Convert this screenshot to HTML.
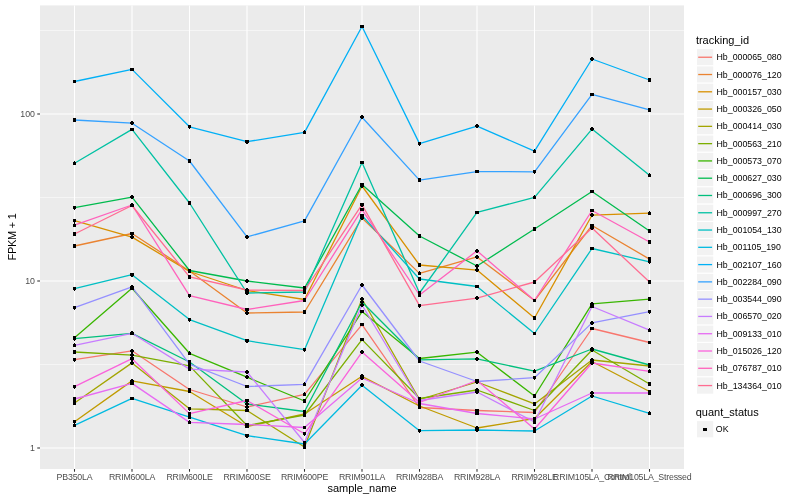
<!DOCTYPE html><html><head><meta charset="utf-8"><title>plot</title><style>html,body{margin:0;padding:0;background:#fff;}svg{display:block;will-change:transform;}text{font-family:"Liberation Sans",Arial,Helvetica,sans-serif;}</style></head><body>
<svg width="800" height="500" viewBox="0 0 800 500">
<rect x="0" y="0" width="800" height="500" fill="#ffffff"/>
<rect x="40" y="5.4" width="644" height="463.6" fill="#EBEBEB"/>
<line x1="40" x2="684" y1="30.5" y2="30.5" stroke="#fff" stroke-width="0.53"/>
<line x1="40" x2="684" y1="197.5" y2="197.5" stroke="#fff" stroke-width="0.53"/>
<line x1="40" x2="684" y1="364.5" y2="364.5" stroke="#fff" stroke-width="0.53"/>
<line x1="40" x2="684" y1="114" y2="114" stroke="#fff" stroke-width="1.07"/>
<line x1="40" x2="684" y1="281" y2="281" stroke="#fff" stroke-width="1.07"/>
<line x1="40" x2="684" y1="448" y2="448" stroke="#fff" stroke-width="1.07"/>
<line x1="74.5" x2="74.5" y1="5.4" y2="469" stroke="#fff" stroke-width="1.07"/>
<line x1="132" x2="132" y1="5.4" y2="469" stroke="#fff" stroke-width="1.07"/>
<line x1="189.5" x2="189.5" y1="5.4" y2="469" stroke="#fff" stroke-width="1.07"/>
<line x1="247" x2="247" y1="5.4" y2="469" stroke="#fff" stroke-width="1.07"/>
<line x1="304.5" x2="304.5" y1="5.4" y2="469" stroke="#fff" stroke-width="1.07"/>
<line x1="362" x2="362" y1="5.4" y2="469" stroke="#fff" stroke-width="1.07"/>
<line x1="419.5" x2="419.5" y1="5.4" y2="469" stroke="#fff" stroke-width="1.07"/>
<line x1="477" x2="477" y1="5.4" y2="469" stroke="#fff" stroke-width="1.07"/>
<line x1="534.5" x2="534.5" y1="5.4" y2="469" stroke="#fff" stroke-width="1.07"/>
<line x1="592" x2="592" y1="5.4" y2="469" stroke="#fff" stroke-width="1.07"/>
<line x1="649.5" x2="649.5" y1="5.4" y2="469" stroke="#fff" stroke-width="1.07"/>
<polyline points="74.5,359.7 132,350.8 189.5,389.5 247,407 304.5,394.3 362,324.6 419.5,407.5 477,410.5 534.5,412.5 592,328.5 649.5,342.5" fill="none" stroke="#F8766D" stroke-width="1.3" stroke-linejoin="round"/>
<polyline points="74.5,246 132,233.5 189.5,271 247,313 304.5,312 362,218 419.5,273.4 477,256.9 534.5,300.5 592,225.5 649.5,259.1" fill="none" stroke="#EA8331" stroke-width="1.3" stroke-linejoin="round"/>
<polyline points="74.5,220.6 132,237.1 189.5,271.5 247,290.5 304.5,299.5 362,186 419.5,265 477,270.1 534.5,318 592,215.2 649.5,213.2" fill="none" stroke="#D89000" stroke-width="1.3" stroke-linejoin="round"/>
<polyline points="74.5,421.8 132,380.9 189.5,391.5 247,426.5 304.5,414 362,376.3 419.5,406 477,428 534.5,418.5 592,361.5 649.5,391.5" fill="none" stroke="#C09B00" stroke-width="1.3" stroke-linejoin="round"/>
<polyline points="74.5,403 132,362.9 189.5,408.8 247,410.5 304.5,447 362,299 419.5,399.5 477,382 534.5,403.9 592,360 649.5,366" fill="none" stroke="#A3A500" stroke-width="1.3" stroke-linejoin="round"/>
<polyline points="74.5,352 132,355.2 189.5,365.9 247,425.5 304.5,415 362,339.6 419.5,398.5 477,390 534.5,410.5 592,350 649.5,384" fill="none" stroke="#7CAE00" stroke-width="1.3" stroke-linejoin="round"/>
<polyline points="74.5,337.7 132,288.3 189.5,353.3 247,377.2 304.5,401 362,311.6 419.5,358.5 477,352.2 534.5,396 592,303.8 649.5,299.1" fill="none" stroke="#39B600" stroke-width="1.3" stroke-linejoin="round"/>
<polyline points="74.5,207.6 132,197.1 189.5,270.5 247,281 304.5,288 362,184.5 419.5,236 477,266 534.5,229 592,191.5 649.5,231" fill="none" stroke="#00BB4E" stroke-width="1.3" stroke-linejoin="round"/>
<polyline points="74.5,338.7 132,333.3 189.5,362 247,404 304.5,411.5 362,302 419.5,359.8 477,358.8 534.5,371.2 592,349 649.5,365" fill="none" stroke="#00BF7D" stroke-width="1.3" stroke-linejoin="round"/>
<polyline points="74.5,163.2 132,129.4 189.5,203 247,293 304.5,292 362,162.5 419.5,293 477,212.4 534.5,197.4 592,129.1 649.5,175.2" fill="none" stroke="#00C1A3" stroke-width="1.3" stroke-linejoin="round"/>
<polyline points="74.5,288.6 132,274.7 189.5,319.6 247,340.7 304.5,349.7 362,215.5 419.5,279 477,286.5 534.5,333.5 592,248.5 649.5,261.8" fill="none" stroke="#00BFC4" stroke-width="1.3" stroke-linejoin="round"/>
<polyline points="74.5,425.3 132,398.4 189.5,417.1 247,435.7 304.5,444 362,385.2 419.5,430.7 477,430 534.5,431 592,396 649.5,413.4" fill="none" stroke="#00BAE0" stroke-width="1.3" stroke-linejoin="round"/>
<polyline points="74.5,81.5 132,69.4 189.5,126.8 247,141.7 304.5,132.4 362,26.5 419.5,143.6 477,126.1 534.5,151.2 592,59 649.5,80" fill="none" stroke="#00B0F6" stroke-width="1.3" stroke-linejoin="round"/>
<polyline points="74.5,120 132,123.2 189.5,161 247,236.9 304.5,220.9 362,117.2 419.5,180.1 477,171.6 534.5,171.8 592,94.4 649.5,109.9" fill="none" stroke="#35A2FF" stroke-width="1.3" stroke-linejoin="round"/>
<polyline points="74.5,307.6 132,286.8 189.5,364.2 247,386.5 304.5,384.4 362,285 419.5,361 477,381.5 534.5,377.7 592,322.9 649.5,311.7" fill="none" stroke="#9590FF" stroke-width="1.3" stroke-linejoin="round"/>
<polyline points="74.5,345.4 132,333.3 189.5,369.1 247,372 304.5,442.5 362,305 419.5,400.5 477,392 534.5,422 592,306.5 649.5,330.2" fill="none" stroke="#C77CFF" stroke-width="1.3" stroke-linejoin="round"/>
<polyline points="74.5,399 132,383.4 189.5,422.4 247,424.5 304.5,427.5 362,378 419.5,403.5 477,413.5 534.5,419 592,393 649.5,393" fill="none" stroke="#E76BF3" stroke-width="1.3" stroke-linejoin="round"/>
<polyline points="74.5,386.7 132,358.7 189.5,413.6 247,400.5 304.5,433.8 362,352.1 419.5,402.5 477,380.5 534.5,429 592,363 649.5,371.4" fill="none" stroke="#FA62DB" stroke-width="1.3" stroke-linejoin="round"/>
<polyline points="74.5,225.2 132,205 189.5,295.6 247,309.5 304.5,300.5 362,209.6 419.5,295 477,250.8 534.5,300.5 592,210.5 649.5,242" fill="none" stroke="#FF62BC" stroke-width="1.3" stroke-linejoin="round"/>
<polyline points="74.5,234 132,205.5 189.5,276.9 247,290 304.5,290.5 362,204.7 419.5,305.6 477,298.1 534.5,282 592,228 649.5,282" fill="none" stroke="#FF6C91" stroke-width="1.3" stroke-linejoin="round"/>
<path d="M73 80h3v1h-3zM73 81h3v1h-3zM73 82h3v1h-3zM130 68h4v1h-4zM130 69h4v1h-4zM130 70h4v1h-4zM188 125h3v1h-3zM188 126h3v1h-3zM188 127h3v1h-3zM189 128h1v1h-1zM245 140h4v1h-4zM245 141h4v1h-4zM245 142h4v1h-4zM246 143h2v1h-2zM304 130h1v1h-1zM303 131h3v1h-3zM303 132h3v1h-3zM303 133h3v1h-3zM360 25h4v1h-4zM360 26h4v1h-4zM360 27h4v1h-4zM418 142h3v1h-3zM418 143h3v1h-3zM418 144h3v1h-3zM419 145h1v1h-1zM476 124h2v1h-2zM475 125h4v1h-4zM475 126h4v1h-4zM476 127h2v1h-2zM534 149h1v1h-1zM533 150h3v1h-3zM533 151h3v1h-3zM533 152h3v1h-3zM591 57h2v1h-2zM590 58h4v1h-4zM590 59h4v1h-4zM591 60h2v1h-2zM648 78h3v1h-3zM648 79h3v1h-3zM648 80h3v1h-3zM648 81h3v1h-3zM73 118h3v1h-3zM73 119h3v1h-3zM73 120h3v1h-3zM73 121h3v1h-3zM131 121h2v1h-2zM130 122h4v1h-4zM130 123h4v1h-4zM131 124h2v1h-2zM188 159h3v1h-3zM188 160h3v1h-3zM188 161h3v1h-3zM188 162h3v1h-3zM246 235h2v1h-2zM245 236h4v1h-4zM245 237h4v1h-4zM246 238h2v1h-2zM303 219h3v1h-3zM303 220h3v1h-3zM303 221h3v1h-3zM303 222h3v1h-3zM361 115h2v1h-2zM360 116h4v1h-4zM360 117h4v1h-4zM361 118h2v1h-2zM418 178h3v1h-3zM418 179h3v1h-3zM418 180h3v1h-3zM418 181h3v1h-3zM475 170h4v1h-4zM475 171h4v1h-4zM475 172h4v1h-4zM533 170h3v1h-3zM533 171h3v1h-3zM533 172h3v1h-3zM534 173h1v1h-1zM590 93h4v1h-4zM590 94h4v1h-4zM590 95h4v1h-4zM648 108h3v1h-3zM648 109h3v1h-3zM648 110h3v1h-3zM648 111h3v1h-3zM74 161h1v1h-1zM73 162h3v1h-3zM73 163h3v1h-3zM73 164h3v1h-3zM130 128h4v1h-4zM130 129h4v1h-4zM130 130h4v1h-4zM188 201h3v1h-3zM188 202h3v1h-3zM188 203h3v1h-3zM188 204h3v1h-3zM246 291h2v1h-2zM245 292h4v1h-4zM245 293h4v1h-4zM246 294h2v1h-2zM303 290h3v1h-3zM303 291h3v1h-3zM303 292h3v1h-3zM303 293h3v1h-3zM360 161h4v1h-4zM360 162h4v1h-4zM360 163h4v1h-4zM418 291h3v1h-3zM418 292h3v1h-3zM418 293h3v1h-3zM418 294h3v1h-3zM475 211h4v1h-4zM475 212h4v1h-4zM475 213h4v1h-4zM534 195h1v1h-1zM533 196h3v1h-3zM533 197h3v1h-3zM533 198h3v1h-3zM591 127h2v1h-2zM590 128h4v1h-4zM590 129h4v1h-4zM591 130h2v1h-2zM649 173h1v1h-1zM648 174h3v1h-3zM648 175h3v1h-3zM648 176h3v1h-3zM73 206h3v1h-3zM73 207h3v1h-3zM73 208h3v1h-3zM74 209h1v1h-1zM131 195h2v1h-2zM130 196h4v1h-4zM130 197h4v1h-4zM131 198h2v1h-2zM188 269h3v1h-3zM188 270h3v1h-3zM188 271h3v1h-3zM246 279h2v1h-2zM245 280h4v1h-4zM245 281h4v1h-4zM246 282h2v1h-2zM303 286h3v1h-3zM303 287h3v1h-3zM303 288h3v1h-3zM303 289h3v1h-3zM360 183h4v1h-4zM360 184h4v1h-4zM360 185h4v1h-4zM418 234h3v1h-3zM418 235h3v1h-3zM418 236h3v1h-3zM418 237h3v1h-3zM476 264h2v1h-2zM475 265h4v1h-4zM475 266h4v1h-4zM476 267h2v1h-2zM533 227h3v1h-3zM533 228h3v1h-3zM533 229h3v1h-3zM533 230h3v1h-3zM590 190h4v1h-4zM590 191h4v1h-4zM590 192h4v1h-4zM648 229h3v1h-3zM648 230h3v1h-3zM648 231h3v1h-3zM648 232h3v1h-3zM73 219h3v1h-3zM73 220h3v1h-3zM73 221h3v1h-3zM74 222h1v1h-1zM131 235h2v1h-2zM130 236h4v1h-4zM130 237h4v1h-4zM131 238h2v1h-2zM188 270h3v1h-3zM188 271h3v1h-3zM188 272h3v1h-3zM245 289h4v1h-4zM245 290h4v1h-4zM245 291h4v1h-4zM303 298h3v1h-3zM303 299h3v1h-3zM303 300h3v1h-3zM361 184h2v1h-2zM360 185h4v1h-4zM360 186h4v1h-4zM361 187h2v1h-2zM418 263h3v1h-3zM418 264h3v1h-3zM418 265h3v1h-3zM418 266h3v1h-3zM476 268h2v1h-2zM475 269h4v1h-4zM475 270h4v1h-4zM476 271h2v1h-2zM533 316h3v1h-3zM533 317h3v1h-3zM533 318h3v1h-3zM533 319h3v1h-3zM591 213h2v1h-2zM590 214h4v1h-4zM590 215h4v1h-4zM591 216h2v1h-2zM649 211h1v1h-1zM648 212h3v1h-3zM648 213h3v1h-3zM648 214h3v1h-3zM74 223h1v1h-1zM73 224h3v1h-3zM73 225h3v1h-3zM73 226h3v1h-3zM131 203h2v1h-2zM130 204h4v1h-4zM130 205h4v1h-4zM131 206h2v1h-2zM188 294h3v1h-3zM188 295h3v1h-3zM188 296h3v1h-3zM189 297h1v1h-1zM245 308h4v1h-4zM245 309h4v1h-4zM245 310h4v1h-4zM303 299h3v1h-3zM303 300h3v1h-3zM303 301h3v1h-3zM360 208h4v1h-4zM360 209h4v1h-4zM360 210h4v1h-4zM418 293h3v1h-3zM418 294h3v1h-3zM418 295h3v1h-3zM418 296h3v1h-3zM476 249h2v1h-2zM475 250h4v1h-4zM475 251h4v1h-4zM476 252h2v1h-2zM533 299h3v1h-3zM533 300h3v1h-3zM533 301h3v1h-3zM590 209h4v1h-4zM590 210h4v1h-4zM590 211h4v1h-4zM648 240h3v1h-3zM648 241h3v1h-3zM648 242h3v1h-3zM648 243h3v1h-3zM73 232h3v1h-3zM73 233h3v1h-3zM73 234h3v1h-3zM73 235h3v1h-3zM130 204h4v1h-4zM130 205h4v1h-4zM130 206h4v1h-4zM188 275h3v1h-3zM188 276h3v1h-3zM188 277h3v1h-3zM188 278h3v1h-3zM246 288h2v1h-2zM245 289h4v1h-4zM245 290h4v1h-4zM246 291h2v1h-2zM303 289h3v1h-3zM303 290h3v1h-3zM303 291h3v1h-3zM360 203h4v1h-4zM360 204h4v1h-4zM360 205h4v1h-4zM361 206h2v1h-2zM418 304h3v1h-3zM418 305h3v1h-3zM418 306h3v1h-3zM419 307h1v1h-1zM476 296h2v1h-2zM475 297h4v1h-4zM475 298h4v1h-4zM476 299h2v1h-2zM533 280h3v1h-3zM533 281h3v1h-3zM533 282h3v1h-3zM533 283h3v1h-3zM591 226h2v1h-2zM590 227h4v1h-4zM590 228h4v1h-4zM591 229h2v1h-2zM648 280h3v1h-3zM648 281h3v1h-3zM648 282h3v1h-3zM648 283h3v1h-3zM73 244h3v1h-3zM73 245h3v1h-3zM73 246h3v1h-3zM73 247h3v1h-3zM130 232h4v1h-4zM130 233h4v1h-4zM130 234h4v1h-4zM188 269h3v1h-3zM188 270h3v1h-3zM188 271h3v1h-3zM188 272h3v1h-3zM246 311h2v1h-2zM245 312h4v1h-4zM245 313h4v1h-4zM246 314h2v1h-2zM303 310h3v1h-3zM303 311h3v1h-3zM303 312h3v1h-3zM303 313h3v1h-3zM361 216h2v1h-2zM360 217h4v1h-4zM360 218h4v1h-4zM361 219h2v1h-2zM419 271h1v1h-1zM418 272h3v1h-3zM418 273h3v1h-3zM418 274h3v1h-3zM476 255h2v1h-2zM475 256h4v1h-4zM475 257h4v1h-4zM476 258h2v1h-2zM533 299h3v1h-3zM533 300h3v1h-3zM533 301h3v1h-3zM590 224h4v1h-4zM590 225h4v1h-4zM590 226h4v1h-4zM648 257h3v1h-3zM648 258h3v1h-3zM648 259h3v1h-3zM648 260h3v1h-3zM73 287h3v1h-3zM73 288h3v1h-3zM73 289h3v1h-3zM74 290h1v1h-1zM130 273h4v1h-4zM130 274h4v1h-4zM130 275h4v1h-4zM131 276h2v1h-2zM188 318h3v1h-3zM188 319h3v1h-3zM188 320h3v1h-3zM189 321h1v1h-1zM245 339h4v1h-4zM245 340h4v1h-4zM245 341h4v1h-4zM246 342h2v1h-2zM303 348h3v1h-3zM303 349h3v1h-3zM303 350h3v1h-3zM304 351h1v1h-1zM360 214h4v1h-4zM360 215h4v1h-4zM360 216h4v1h-4zM418 277h3v1h-3zM418 278h3v1h-3zM418 279h3v1h-3zM418 280h3v1h-3zM475 285h4v1h-4zM475 286h4v1h-4zM475 287h4v1h-4zM533 332h3v1h-3zM533 333h3v1h-3zM533 334h3v1h-3zM590 247h4v1h-4zM590 248h4v1h-4zM590 249h4v1h-4zM648 260h3v1h-3zM648 261h3v1h-3zM648 262h3v1h-3zM649 263h1v1h-1zM73 306h3v1h-3zM73 307h3v1h-3zM73 308h3v1h-3zM74 309h1v1h-1zM131 285h2v1h-2zM130 286h4v1h-4zM130 287h4v1h-4zM131 288h2v1h-2zM189 362h1v1h-1zM188 363h3v1h-3zM188 364h3v1h-3zM188 365h3v1h-3zM245 385h4v1h-4zM245 386h4v1h-4zM245 387h4v1h-4zM304 382h1v1h-1zM303 383h3v1h-3zM303 384h3v1h-3zM303 385h3v1h-3zM361 283h2v1h-2zM360 284h4v1h-4zM360 285h4v1h-4zM361 286h2v1h-2zM418 359h3v1h-3zM418 360h3v1h-3zM418 361h3v1h-3zM418 362h3v1h-3zM475 380h4v1h-4zM475 381h4v1h-4zM475 382h4v1h-4zM533 376h3v1h-3zM533 377h3v1h-3zM533 378h3v1h-3zM534 379h1v1h-1zM591 321h2v1h-2zM590 322h4v1h-4zM590 323h4v1h-4zM591 324h2v1h-2zM648 310h3v1h-3zM648 311h3v1h-3zM648 312h3v1h-3zM649 313h1v1h-1zM73 336h3v1h-3zM73 337h3v1h-3zM73 338h3v1h-3zM74 339h1v1h-1zM131 286h2v1h-2zM130 287h4v1h-4zM130 288h4v1h-4zM130 289h4v1h-4zM189 351h1v1h-1zM188 352h3v1h-3zM188 353h3v1h-3zM188 354h3v1h-3zM246 375h2v1h-2zM245 376h4v1h-4zM245 377h4v1h-4zM246 378h2v1h-2zM303 399h3v1h-3zM303 400h3v1h-3zM303 401h3v1h-3zM303 402h3v1h-3zM360 310h4v1h-4zM360 311h4v1h-4zM360 312h4v1h-4zM418 357h3v1h-3zM418 358h3v1h-3zM418 359h3v1h-3zM476 350h2v1h-2zM475 351h4v1h-4zM475 352h4v1h-4zM476 353h2v1h-2zM533 394h3v1h-3zM533 395h3v1h-3zM533 396h3v1h-3zM533 397h3v1h-3zM591 302h2v1h-2zM590 303h4v1h-4zM590 304h4v1h-4zM591 305h2v1h-2zM648 297h3v1h-3zM648 298h3v1h-3zM648 299h3v1h-3zM648 300h3v1h-3zM73 337h3v1h-3zM73 338h3v1h-3zM73 339h3v1h-3zM74 340h1v1h-1zM131 331h2v1h-2zM130 332h4v1h-4zM130 333h4v1h-4zM130 334h4v1h-4zM188 360h3v1h-3zM188 361h3v1h-3zM188 362h3v1h-3zM188 363h3v1h-3zM246 402h2v1h-2zM245 403h4v1h-4zM245 404h4v1h-4zM246 405h2v1h-2zM303 410h3v1h-3zM303 411h3v1h-3zM303 412h3v1h-3zM361 300h2v1h-2zM360 301h4v1h-4zM360 302h4v1h-4zM361 303h2v1h-2zM418 358h3v1h-3zM418 359h3v1h-3zM418 360h3v1h-3zM419 361h1v1h-1zM476 357h2v1h-2zM475 358h4v1h-4zM475 359h4v1h-4zM476 360h2v1h-2zM534 369h1v1h-1zM533 370h3v1h-3zM533 371h3v1h-3zM533 372h3v1h-3zM591 347h2v1h-2zM590 348h4v1h-4zM590 349h4v1h-4zM591 350h2v1h-2zM648 363h3v1h-3zM648 364h3v1h-3zM648 365h3v1h-3zM648 366h3v1h-3zM74 343h1v1h-1zM73 344h3v1h-3zM73 345h3v1h-3zM73 346h3v1h-3zM131 331h2v1h-2zM130 332h4v1h-4zM130 333h4v1h-4zM130 334h4v1h-4zM188 367h3v1h-3zM188 368h3v1h-3zM188 369h3v1h-3zM188 370h3v1h-3zM246 370h2v1h-2zM245 371h4v1h-4zM245 372h4v1h-4zM246 373h2v1h-2zM303 441h3v1h-3zM303 442h3v1h-3zM303 443h3v1h-3zM361 303h2v1h-2zM360 304h4v1h-4zM360 305h4v1h-4zM361 306h2v1h-2zM418 399h3v1h-3zM418 400h3v1h-3zM418 401h3v1h-3zM476 390h2v1h-2zM475 391h4v1h-4zM475 392h4v1h-4zM476 393h2v1h-2zM533 420h3v1h-3zM533 421h3v1h-3zM533 422h3v1h-3zM533 423h3v1h-3zM590 305h4v1h-4zM590 306h4v1h-4zM590 307h4v1h-4zM649 328h1v1h-1zM648 329h3v1h-3zM648 330h3v1h-3zM648 331h3v1h-3zM73 350h3v1h-3zM73 351h3v1h-3zM73 352h3v1h-3zM73 353h3v1h-3zM131 353h2v1h-2zM130 354h4v1h-4zM130 355h4v1h-4zM131 356h2v1h-2zM188 364h3v1h-3zM188 365h3v1h-3zM188 366h3v1h-3zM188 367h3v1h-3zM245 424h4v1h-4zM245 425h4v1h-4zM245 426h4v1h-4zM303 413h3v1h-3zM303 414h3v1h-3zM303 415h3v1h-3zM303 416h3v1h-3zM360 338h4v1h-4zM360 339h4v1h-4zM360 340h4v1h-4zM418 397h3v1h-3zM418 398h3v1h-3zM418 399h3v1h-3zM476 388h2v1h-2zM475 389h4v1h-4zM475 390h4v1h-4zM476 391h2v1h-2zM533 409h3v1h-3zM533 410h3v1h-3zM533 411h3v1h-3zM591 348h2v1h-2zM590 349h4v1h-4zM590 350h4v1h-4zM591 351h2v1h-2zM648 382h3v1h-3zM648 383h3v1h-3zM648 384h3v1h-3zM648 385h3v1h-3zM73 358h3v1h-3zM73 359h3v1h-3zM73 360h3v1h-3zM74 361h1v1h-1zM131 349h2v1h-2zM130 350h4v1h-4zM130 351h4v1h-4zM131 352h2v1h-2zM188 388h3v1h-3zM188 389h3v1h-3zM188 390h3v1h-3zM246 405h2v1h-2zM245 406h4v1h-4zM245 407h4v1h-4zM246 408h2v1h-2zM304 392h1v1h-1zM303 393h3v1h-3zM303 394h3v1h-3zM303 395h3v1h-3zM360 323h4v1h-4zM360 324h4v1h-4zM360 325h4v1h-4zM418 406h3v1h-3zM418 407h3v1h-3zM418 408h3v1h-3zM475 409h4v1h-4zM475 410h4v1h-4zM475 411h4v1h-4zM533 411h3v1h-3zM533 412h3v1h-3zM533 413h3v1h-3zM590 327h4v1h-4zM590 328h4v1h-4zM590 329h4v1h-4zM648 341h3v1h-3zM648 342h3v1h-3zM648 343h3v1h-3zM73 385h3v1h-3zM73 386h3v1h-3zM73 387h3v1h-3zM74 388h1v1h-1zM130 357h4v1h-4zM130 358h4v1h-4zM130 359h4v1h-4zM131 360h2v1h-2zM188 412h3v1h-3zM188 413h3v1h-3zM188 414h3v1h-3zM189 415h1v1h-1zM245 399h4v1h-4zM245 400h4v1h-4zM245 401h4v1h-4zM303 432h3v1h-3zM303 433h3v1h-3zM303 434h3v1h-3zM304 435h1v1h-1zM361 350h2v1h-2zM360 351h4v1h-4zM360 352h4v1h-4zM361 353h2v1h-2zM418 401h3v1h-3zM418 402h3v1h-3zM418 403h3v1h-3zM475 379h4v1h-4zM475 380h4v1h-4zM475 381h4v1h-4zM533 427h3v1h-3zM533 428h3v1h-3zM533 429h3v1h-3zM533 430h3v1h-3zM591 361h2v1h-2zM590 362h4v1h-4zM590 363h4v1h-4zM591 364h2v1h-2zM649 369h1v1h-1zM648 370h3v1h-3zM648 371h3v1h-3zM648 372h3v1h-3zM73 397h3v1h-3zM73 398h3v1h-3zM73 399h3v1h-3zM73 400h3v1h-3zM130 382h4v1h-4zM130 383h4v1h-4zM130 384h4v1h-4zM189 420h1v1h-1zM188 421h3v1h-3zM188 422h3v1h-3zM188 423h3v1h-3zM245 423h4v1h-4zM245 424h4v1h-4zM245 425h4v1h-4zM303 426h3v1h-3zM303 427h3v1h-3zM303 428h3v1h-3zM361 376h2v1h-2zM360 377h4v1h-4zM360 378h4v1h-4zM361 379h2v1h-2zM418 402h3v1h-3zM418 403h3v1h-3zM418 404h3v1h-3zM475 412h4v1h-4zM475 413h4v1h-4zM475 414h4v1h-4zM533 417h3v1h-3zM533 418h3v1h-3zM533 419h3v1h-3zM533 420h3v1h-3zM591 391h2v1h-2zM590 392h4v1h-4zM590 393h4v1h-4zM591 394h2v1h-2zM648 391h3v1h-3zM648 392h3v1h-3zM648 393h3v1h-3zM648 394h3v1h-3zM73 401h3v1h-3zM73 402h3v1h-3zM73 403h3v1h-3zM73 404h3v1h-3zM131 361h2v1h-2zM130 362h4v1h-4zM130 363h4v1h-4zM131 364h2v1h-2zM188 407h3v1h-3zM188 408h3v1h-3zM188 409h3v1h-3zM189 410h1v1h-1zM245 409h4v1h-4zM245 410h4v1h-4zM245 411h4v1h-4zM303 445h3v1h-3zM303 446h3v1h-3zM303 447h3v1h-3zM303 448h3v1h-3zM361 297h2v1h-2zM360 298h4v1h-4zM360 299h4v1h-4zM361 300h2v1h-2zM418 398h3v1h-3zM418 399h3v1h-3zM418 400h3v1h-3zM476 380h2v1h-2zM475 381h4v1h-4zM475 382h4v1h-4zM476 383h2v1h-2zM533 402h3v1h-3zM533 403h3v1h-3zM533 404h3v1h-3zM533 405h3v1h-3zM591 358h2v1h-2zM590 359h4v1h-4zM590 360h4v1h-4zM591 361h2v1h-2zM648 364h3v1h-3zM648 365h3v1h-3zM648 366h3v1h-3zM648 367h3v1h-3zM73 420h3v1h-3zM73 421h3v1h-3zM73 422h3v1h-3zM74 423h1v1h-1zM131 379h2v1h-2zM130 380h4v1h-4zM130 381h4v1h-4zM131 382h2v1h-2zM188 390h3v1h-3zM188 391h3v1h-3zM188 392h3v1h-3zM245 425h4v1h-4zM245 426h4v1h-4zM245 427h4v1h-4zM303 412h3v1h-3zM303 413h3v1h-3zM303 414h3v1h-3zM303 415h3v1h-3zM361 374h2v1h-2zM360 375h4v1h-4zM360 376h4v1h-4zM360 377h4v1h-4zM418 404h3v1h-3zM418 405h3v1h-3zM418 406h3v1h-3zM418 407h3v1h-3zM476 426h2v1h-2zM475 427h4v1h-4zM475 428h4v1h-4zM476 429h2v1h-2zM533 417h3v1h-3zM533 418h3v1h-3zM533 419h3v1h-3zM590 360h4v1h-4zM590 361h4v1h-4zM590 362h4v1h-4zM648 390h3v1h-3zM648 391h3v1h-3zM648 392h3v1h-3zM74 423h1v1h-1zM73 424h3v1h-3zM73 425h3v1h-3zM73 426h3v1h-3zM130 397h4v1h-4zM130 398h4v1h-4zM130 399h4v1h-4zM188 415h3v1h-3zM188 416h3v1h-3zM188 417h3v1h-3zM188 418h3v1h-3zM245 434h4v1h-4zM245 435h4v1h-4zM245 436h4v1h-4zM246 437h2v1h-2zM303 442h3v1h-3zM303 443h3v1h-3zM303 444h3v1h-3zM303 445h3v1h-3zM361 383h2v1h-2zM360 384h4v1h-4zM360 385h4v1h-4zM361 386h2v1h-2zM418 429h3v1h-3zM418 430h3v1h-3zM418 431h3v1h-3zM419 432h1v1h-1zM476 428h2v1h-2zM475 429h4v1h-4zM475 430h4v1h-4zM476 431h2v1h-2zM533 429h3v1h-3zM533 430h3v1h-3zM533 431h3v1h-3zM533 432h3v1h-3zM591 394h2v1h-2zM590 395h4v1h-4zM590 396h4v1h-4zM591 397h2v1h-2zM649 411h1v1h-1zM648 412h3v1h-3zM648 413h3v1h-3zM648 414h3v1h-3z" fill="#000" shape-rendering="crispEdges"/>
<line x1="37.25" x2="40" y1="114" y2="114" stroke="#333" stroke-width="1.07"/>
<line x1="37.25" x2="40" y1="281" y2="281" stroke="#333" stroke-width="1.07"/>
<line x1="37.25" x2="40" y1="448" y2="448" stroke="#333" stroke-width="1.07"/>
<line x1="74.5" x2="74.5" y1="469" y2="471.75" stroke="#333" stroke-width="1.07"/>
<line x1="132" x2="132" y1="469" y2="471.75" stroke="#333" stroke-width="1.07"/>
<line x1="189.5" x2="189.5" y1="469" y2="471.75" stroke="#333" stroke-width="1.07"/>
<line x1="247" x2="247" y1="469" y2="471.75" stroke="#333" stroke-width="1.07"/>
<line x1="304.5" x2="304.5" y1="469" y2="471.75" stroke="#333" stroke-width="1.07"/>
<line x1="362" x2="362" y1="469" y2="471.75" stroke="#333" stroke-width="1.07"/>
<line x1="419.5" x2="419.5" y1="469" y2="471.75" stroke="#333" stroke-width="1.07"/>
<line x1="477" x2="477" y1="469" y2="471.75" stroke="#333" stroke-width="1.07"/>
<line x1="534.5" x2="534.5" y1="469" y2="471.75" stroke="#333" stroke-width="1.07"/>
<line x1="592" x2="592" y1="469" y2="471.75" stroke="#333" stroke-width="1.07"/>
<line x1="649.5" x2="649.5" y1="469" y2="471.75" stroke="#333" stroke-width="1.07"/>
<text x="35" y="117.2" font-size="8.8" fill="#4D4D4D" text-anchor="end">100</text>
<text x="35" y="284.2" font-size="8.8" fill="#4D4D4D" text-anchor="end">10</text>
<text x="35" y="451.2" font-size="8.8" fill="#4D4D4D" text-anchor="end">1</text>
<text x="74.5" y="479.8" font-size="8.8" fill="#4D4D4D" text-anchor="middle" letter-spacing="-0.2">PB350LA</text>
<text x="132" y="479.8" font-size="8.8" fill="#4D4D4D" text-anchor="middle" letter-spacing="-0.2">RRIM600LA</text>
<text x="189.5" y="479.8" font-size="8.8" fill="#4D4D4D" text-anchor="middle" letter-spacing="-0.2">RRIM600LE</text>
<text x="247" y="479.8" font-size="8.8" fill="#4D4D4D" text-anchor="middle" letter-spacing="-0.2">RRIM600SE</text>
<text x="304.5" y="479.8" font-size="8.8" fill="#4D4D4D" text-anchor="middle" letter-spacing="-0.2">RRIM600PE</text>
<text x="362" y="479.8" font-size="8.8" fill="#4D4D4D" text-anchor="middle" letter-spacing="-0.2">RRIM901LA</text>
<text x="419.5" y="479.8" font-size="8.8" fill="#4D4D4D" text-anchor="middle" letter-spacing="-0.2">RRIM928BA</text>
<text x="477" y="479.8" font-size="8.8" fill="#4D4D4D" text-anchor="middle" letter-spacing="-0.2">RRIM928LA</text>
<text x="534.5" y="479.8" font-size="8.8" fill="#4D4D4D" text-anchor="middle" letter-spacing="-0.2">RRIM928LE</text>
<text x="592" y="479.8" font-size="8.8" fill="#4D4D4D" text-anchor="middle" letter-spacing="-0.2">RRIM105LA_Control</text>
<text x="649.5" y="479.8" font-size="8.8" fill="#4D4D4D" text-anchor="middle" letter-spacing="-0.2">RRIM105LA_Stressed</text>
<text x="362" y="491.5" font-size="11" fill="#000" text-anchor="middle">sample_name</text>
<text transform="translate(16,237) rotate(-90)" x="0" y="0" font-size="11" fill="#000" text-anchor="middle" letter-spacing="-0.28">FPKM + 1</text>
<text x="695.9" y="44" font-size="11" fill="#000">tracking_id</text>
<rect x="696.5" y="48.60" width="17.28" height="17.28" fill="#F2F2F2" stroke="#fff" stroke-width="1"/>
<line x1="698.20" x2="712.08" y1="57.24" y2="57.24" stroke="#F8766D" stroke-width="1.3"/>
<text x="716.5" y="60.24" font-size="8.8" fill="#000">Hb_000065_080</text>
<rect x="696.5" y="65.88" width="17.28" height="17.28" fill="#F2F2F2" stroke="#fff" stroke-width="1"/>
<line x1="698.20" x2="712.08" y1="74.52" y2="74.52" stroke="#EA8331" stroke-width="1.3"/>
<text x="716.5" y="77.52" font-size="8.8" fill="#000">Hb_000076_120</text>
<rect x="696.5" y="83.16" width="17.28" height="17.28" fill="#F2F2F2" stroke="#fff" stroke-width="1"/>
<line x1="698.20" x2="712.08" y1="91.80" y2="91.80" stroke="#D89000" stroke-width="1.3"/>
<text x="716.5" y="94.80" font-size="8.8" fill="#000">Hb_000157_030</text>
<rect x="696.5" y="100.44" width="17.28" height="17.28" fill="#F2F2F2" stroke="#fff" stroke-width="1"/>
<line x1="698.20" x2="712.08" y1="109.08" y2="109.08" stroke="#C09B00" stroke-width="1.3"/>
<text x="716.5" y="112.08" font-size="8.8" fill="#000">Hb_000326_050</text>
<rect x="696.5" y="117.72" width="17.28" height="17.28" fill="#F2F2F2" stroke="#fff" stroke-width="1"/>
<line x1="698.20" x2="712.08" y1="126.36" y2="126.36" stroke="#A3A500" stroke-width="1.3"/>
<text x="716.5" y="129.36" font-size="8.8" fill="#000">Hb_000414_030</text>
<rect x="696.5" y="135.00" width="17.28" height="17.28" fill="#F2F2F2" stroke="#fff" stroke-width="1"/>
<line x1="698.20" x2="712.08" y1="143.64" y2="143.64" stroke="#7CAE00" stroke-width="1.3"/>
<text x="716.5" y="146.64" font-size="8.8" fill="#000">Hb_000563_210</text>
<rect x="696.5" y="152.28" width="17.28" height="17.28" fill="#F2F2F2" stroke="#fff" stroke-width="1"/>
<line x1="698.20" x2="712.08" y1="160.92" y2="160.92" stroke="#39B600" stroke-width="1.3"/>
<text x="716.5" y="163.92" font-size="8.8" fill="#000">Hb_000573_070</text>
<rect x="696.5" y="169.56" width="17.28" height="17.28" fill="#F2F2F2" stroke="#fff" stroke-width="1"/>
<line x1="698.20" x2="712.08" y1="178.20" y2="178.20" stroke="#00BB4E" stroke-width="1.3"/>
<text x="716.5" y="181.20" font-size="8.8" fill="#000">Hb_000627_030</text>
<rect x="696.5" y="186.84" width="17.28" height="17.28" fill="#F2F2F2" stroke="#fff" stroke-width="1"/>
<line x1="698.20" x2="712.08" y1="195.48" y2="195.48" stroke="#00BF7D" stroke-width="1.3"/>
<text x="716.5" y="198.48" font-size="8.8" fill="#000">Hb_000696_300</text>
<rect x="696.5" y="204.12" width="17.28" height="17.28" fill="#F2F2F2" stroke="#fff" stroke-width="1"/>
<line x1="698.20" x2="712.08" y1="212.76" y2="212.76" stroke="#00C1A3" stroke-width="1.3"/>
<text x="716.5" y="215.76" font-size="8.8" fill="#000">Hb_000997_270</text>
<rect x="696.5" y="221.40" width="17.28" height="17.28" fill="#F2F2F2" stroke="#fff" stroke-width="1"/>
<line x1="698.20" x2="712.08" y1="230.04" y2="230.04" stroke="#00BFC4" stroke-width="1.3"/>
<text x="716.5" y="233.04" font-size="8.8" fill="#000">Hb_001054_130</text>
<rect x="696.5" y="238.68" width="17.28" height="17.28" fill="#F2F2F2" stroke="#fff" stroke-width="1"/>
<line x1="698.20" x2="712.08" y1="247.32" y2="247.32" stroke="#00BAE0" stroke-width="1.3"/>
<text x="716.5" y="250.32" font-size="8.8" fill="#000">Hb_001105_190</text>
<rect x="696.5" y="255.96" width="17.28" height="17.28" fill="#F2F2F2" stroke="#fff" stroke-width="1"/>
<line x1="698.20" x2="712.08" y1="264.60" y2="264.60" stroke="#00B0F6" stroke-width="1.3"/>
<text x="716.5" y="267.60" font-size="8.8" fill="#000">Hb_002107_160</text>
<rect x="696.5" y="273.24" width="17.28" height="17.28" fill="#F2F2F2" stroke="#fff" stroke-width="1"/>
<line x1="698.20" x2="712.08" y1="281.88" y2="281.88" stroke="#35A2FF" stroke-width="1.3"/>
<text x="716.5" y="284.88" font-size="8.8" fill="#000">Hb_002284_090</text>
<rect x="696.5" y="290.52" width="17.28" height="17.28" fill="#F2F2F2" stroke="#fff" stroke-width="1"/>
<line x1="698.20" x2="712.08" y1="299.16" y2="299.16" stroke="#9590FF" stroke-width="1.3"/>
<text x="716.5" y="302.16" font-size="8.8" fill="#000">Hb_003544_090</text>
<rect x="696.5" y="307.80" width="17.28" height="17.28" fill="#F2F2F2" stroke="#fff" stroke-width="1"/>
<line x1="698.20" x2="712.08" y1="316.44" y2="316.44" stroke="#C77CFF" stroke-width="1.3"/>
<text x="716.5" y="319.44" font-size="8.8" fill="#000">Hb_006570_020</text>
<rect x="696.5" y="325.08" width="17.28" height="17.28" fill="#F2F2F2" stroke="#fff" stroke-width="1"/>
<line x1="698.20" x2="712.08" y1="333.72" y2="333.72" stroke="#E76BF3" stroke-width="1.3"/>
<text x="716.5" y="336.72" font-size="8.8" fill="#000">Hb_009133_010</text>
<rect x="696.5" y="342.36" width="17.28" height="17.28" fill="#F2F2F2" stroke="#fff" stroke-width="1"/>
<line x1="698.20" x2="712.08" y1="351.00" y2="351.00" stroke="#FA62DB" stroke-width="1.3"/>
<text x="716.5" y="354.00" font-size="8.8" fill="#000">Hb_015026_120</text>
<rect x="696.5" y="359.64" width="17.28" height="17.28" fill="#F2F2F2" stroke="#fff" stroke-width="1"/>
<line x1="698.20" x2="712.08" y1="368.28" y2="368.28" stroke="#FF62BC" stroke-width="1.3"/>
<text x="716.5" y="371.28" font-size="8.8" fill="#000">Hb_076787_010</text>
<rect x="696.5" y="376.92" width="17.28" height="17.28" fill="#F2F2F2" stroke="#fff" stroke-width="1"/>
<line x1="698.20" x2="712.08" y1="385.56" y2="385.56" stroke="#FF6C91" stroke-width="1.3"/>
<text x="716.5" y="388.56" font-size="8.8" fill="#000">Hb_134364_010</text>
<text x="695.7" y="415.5" font-size="11" fill="#000">quant_status</text>
<rect x="696.5" y="420.6" width="17.28" height="17.28" fill="#F2F2F2" stroke="#fff" stroke-width="1"/>
<path d="M703 428h4v1h-4zM703 429h4v1h-4zM703 430h4v1h-4z" fill="#000" shape-rendering="crispEdges"/>
<text x="715.8" y="432.24" font-size="8.8" fill="#000">OK</text>
</svg></body></html>
